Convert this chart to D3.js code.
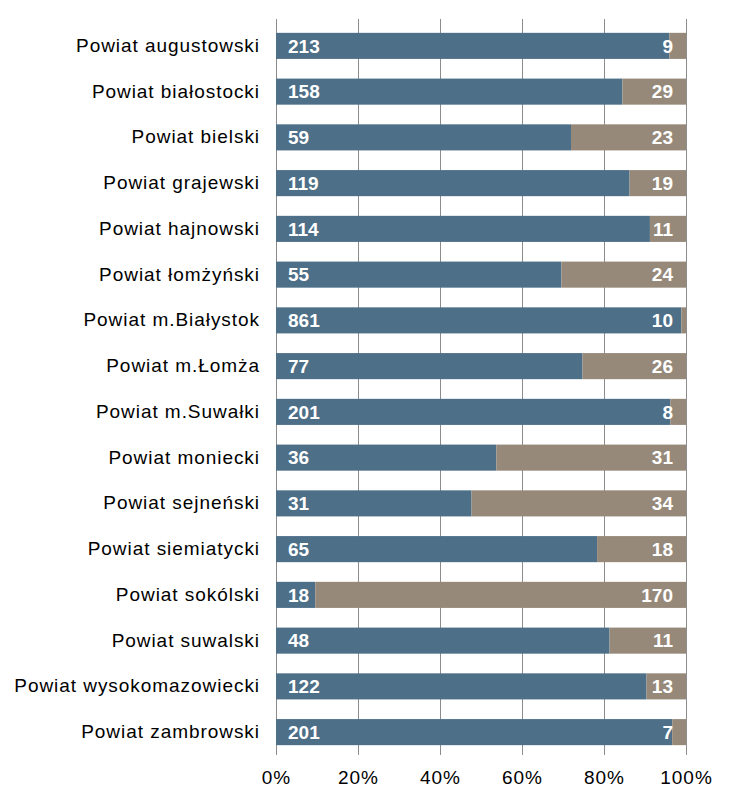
<!DOCTYPE html>
<html>
<head>
<meta charset="utf-8">
<script src="https://cdn.jsdelivr.net/npm/d3@7"></script>
<style>
  html, body { margin: 0; padding: 0; background: #fff; }
  svg { display: block; }
  text { font-family: "Liberation Sans", Arial, sans-serif; }
</style>
</head>
<body>
<script>
const categories = [
  "Powiat augustowski", "Powiat białostocki", "Powiat bielski", "Powiat grajewski",
  "Powiat hajnowski", "Powiat łomżyński", "Powiat m.Białystok", "Powiat m.Łomża",
  "Powiat m.Suwałki", "Powiat moniecki", "Powiat sejneński", "Powiat siemiatycki",
  "Powiat sokólski", "Powiat suwalski", "Powiat wysokomazowiecki", "Powiat zambrowski"
];
const seriesA = [213, 158, 59, 119, 114, 55, 861, 77, 201, 36, 31, 65, 18, 48, 122, 201];
const seriesB = [9, 29, 23, 19, 11, 24, 10, 26, 8, 31, 34, 18, 170, 11, 13, 7];
const tickValues = [0, 0.2, 0.4, 0.6, 0.8, 1.0];
const colors = ["#4D6F88", "#968979"];

const W = 736, H = 805;
const margin = { left: 276, right: 50, top: 23, bottom: 50 };

const svg = d3.select("body").append("svg").attr("width", W).attr("height", H);

const x = d3.scaleLinear().domain([0, 1]).range([margin.left, W - margin.right]);
const y = d3.scaleBand().domain(categories).range([margin.top, H - margin.bottom]).paddingInner(0.43).paddingOuter(0.215);

const rows = categories.map((c, i) => {
  const t = seriesA[i] + seriesB[i];
  return { c, a: seriesA[i], b: seriesB[i], pa: seriesA[i] / t };
});

// gridlines
svg.append("g").selectAll("line").data(tickValues).join("line")
  .attr("x1", d => Math.round(x(d)) + 0.5).attr("x2", d => Math.round(x(d)) + 0.5)
  .attr("y1", margin.top - 4).attr("y2", H - margin.bottom)
  .attr("stroke", "#8c8c8c").attr("stroke-width", 1);

// bars
const g = svg.append("g");
g.selectAll("rect.a").data(rows).join("rect").attr("class", "a")
  .attr("x", x(0)).attr("y", d => y(d.c))
  .attr("width", d => x(d.pa) - x(0)).attr("height", y.bandwidth())
  .attr("fill", colors[0]);
g.selectAll("rect.b").data(rows).join("rect").attr("class", "b")
  .attr("x", d => x(d.pa)).attr("y", d => y(d.c))
  .attr("width", d => x(1) - x(d.pa)).attr("height", y.bandwidth())
  .attr("fill", colors[1]);

// value labels
g.selectAll("text.a").data(rows).join("text").attr("class", "a")
  .attr("x", x(0) + 12).attr("y", d => y(d.c) + y.bandwidth() / 2)
  .attr("dy", "0.36em").attr("fill", "#fff").attr("font-weight", "bold")
  .attr("font-size", 19).text(d => d.a);
g.selectAll("text.b").data(rows).join("text").attr("class", "b")
  .attr("x", x(1) - 13).attr("y", d => y(d.c) + y.bandwidth() / 2)
  .attr("dy", "0.36em").attr("fill", "#fff").attr("font-weight", "bold")
  .attr("text-anchor", "end")
  .attr("font-size", 19).text(d => d.b);

// y axis labels
const yAxis = d3.axisLeft(y).tickSize(0).tickPadding(16);
const ya = svg.append("g").attr("transform", `translate(${x(0)},0)`).call(yAxis);
ya.select(".domain").remove();
ya.selectAll("text").attr("font-size", 19).attr("fill", "#000")
  .attr("letter-spacing", "0.95px")
  .style("font-family", '"Liberation Sans", Arial, sans-serif');

// x axis labels
const xAxis = d3.axisBottom(x).tickValues(tickValues).tickFormat(d3.format(".0%")).tickSize(0).tickPadding(16);
const xa = svg.append("g").attr("transform", `translate(0,${H - margin.bottom})`).call(xAxis);
xa.select(".domain").remove();
xa.selectAll("text").attr("font-size", 19).attr("fill", "#000")
  .attr("letter-spacing", "1px")
  .style("font-family", '"Liberation Sans", Arial, sans-serif');
</script>
</body>
</html>
